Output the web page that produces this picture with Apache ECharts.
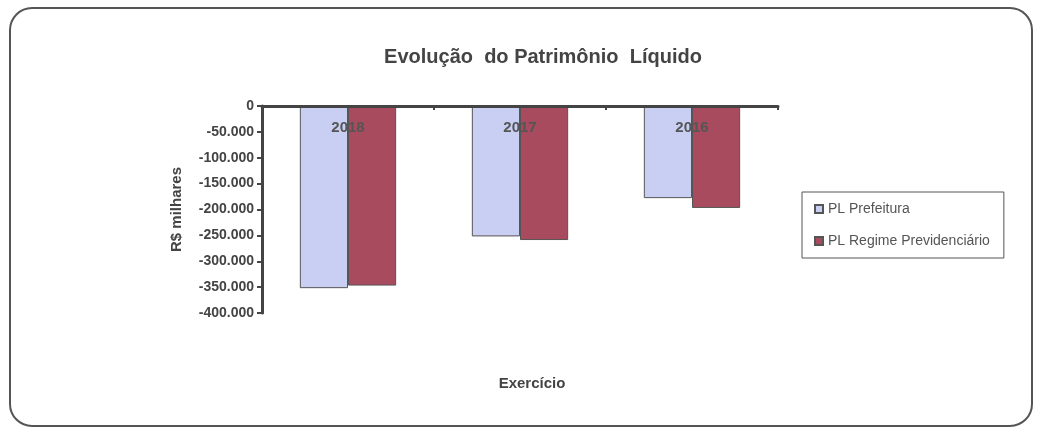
<!DOCTYPE html>
<html>
<head>
<meta charset="utf-8">
<script src="https://cdn.jsdelivr.net/npm/echarts@6/dist/echarts.min.js"></script>
<style>
  html, body { margin: 0; padding: 0; background: #fff; }
  #chart { width: 1041px; height: 440px; }
</style>
</head>
<body>
<div id="chart"></div>
<script>
// dados do gráfico
const anos = ['2018', '2017', '2016'];
const plPrefeitura = [-352000, -252000, -178000];
const plRegime = [-347000, -259000, -197000];
const yTicks = [0, -50000, -100000, -150000, -200000, -250000, -300000, -350000, -400000];

function fmt(v) {
    const s = Math.abs(v).toString().replace(/\B(?=(\d{3})+(?!\d))/g, '.');
    return (v < 0 ? '-' : '') + s;
}

const chart = echarts.init(document.getElementById('chart'));

const option = {
    backgroundColor: '#fff',
    textStyle: { fontFamily: 'Liberation Sans, Arial, sans-serif' },
    title: [
        {
            text: 'Evolução  do Patrimônio  Líquido',
            left: 538,
            top: 42,
            textAlign: 'center',
            textStyle: { fontSize: 20, fontWeight: 'bold', color: '#444' }
        },
        {
            text: 'Exercício',
            left: 527,
            top: 371,
            textAlign: 'center',
            textStyle: { fontSize: 15, fontWeight: 'bold', color: '#444' }
        }
    ],
    graphic: [
        {
            type: 'rect',
            shape: { x: 10, y: 8, width: 1022, height: 418, r: 22 },
            style: { fill: 'none', stroke: '#555', lineWidth: 2 }
        }
    ],
    legend: {
        orient: 'vertical',
        left: 802,
        top: 192,
        icon: 'rect',
        itemWidth: 8,
        itemHeight: 8,
        itemGap: 18,
        padding: [10, 14, 10, 12],
        borderColor: '#555',
        borderWidth: 1,
        textStyle: { fontSize: 14, color: '#555' },
        data: ['PL Prefeitura', 'PL Regime Previdenciário']
    },
    grid: {
        left: 262,
        right: 263,
        top: 106,
        height: 207,
        outerBoundsMode: 'none',
        containLabel: false
    },
    xAxis: {
        type: 'category',
        data: anos,
        position: 'top',
        axisLine: { onZero: false, lineStyle: { color: '#444', width: 3 } },
        axisTick: { show: true, inside: true, length: 4, lineStyle: { color: '#444', width: 2 } },
        axisLabel: { inside: true, margin: 14, fontSize: 15, fontWeight: 'bold', color: '#555' },
        z: 10
    },
    yAxis: {
        type: 'value',
        min: -400000,
        max: 0,
        interval: 50000,
        name: 'R$ milhares',
        nameLocation: 'middle',
        nameGap: 78,
        nameTextStyle: { fontSize: 15, fontWeight: 'bold', color: '#444' },
        axisLine: { show: true, lineStyle: { color: '#444', width: 3 } },
        axisTick: { show: true, length: 5, lineStyle: { color: '#444', width: 2 } },
        axisLabel: {
            fontSize: 14,
            fontWeight: 'bold',
            color: '#444',
            margin: 8,
            showMinLabel: true,
            showMaxLabel: true,
            formatter: function (v) { return yTicks.indexOf(v) >= 0 ? fmt(v) : ''; }
        },
        splitLine: { show: false }
    },
    series: [
        {
            name: 'PL Prefeitura',
            type: 'bar',
            data: plPrefeitura,
            barGap: '0%',
            barCategoryGap: '44%',
            itemStyle: { color: '#c8cff2', borderColor: '#555', borderWidth: 1 }
        },
        {
            name: 'PL Regime Previdenciário',
            type: 'bar',
            data: plRegime,
            itemStyle: { color: '#a84b5e', borderColor: '#555', borderWidth: 1 }
        }
    ]
};

chart.setOption(option);
</script>
</body>
</html>
